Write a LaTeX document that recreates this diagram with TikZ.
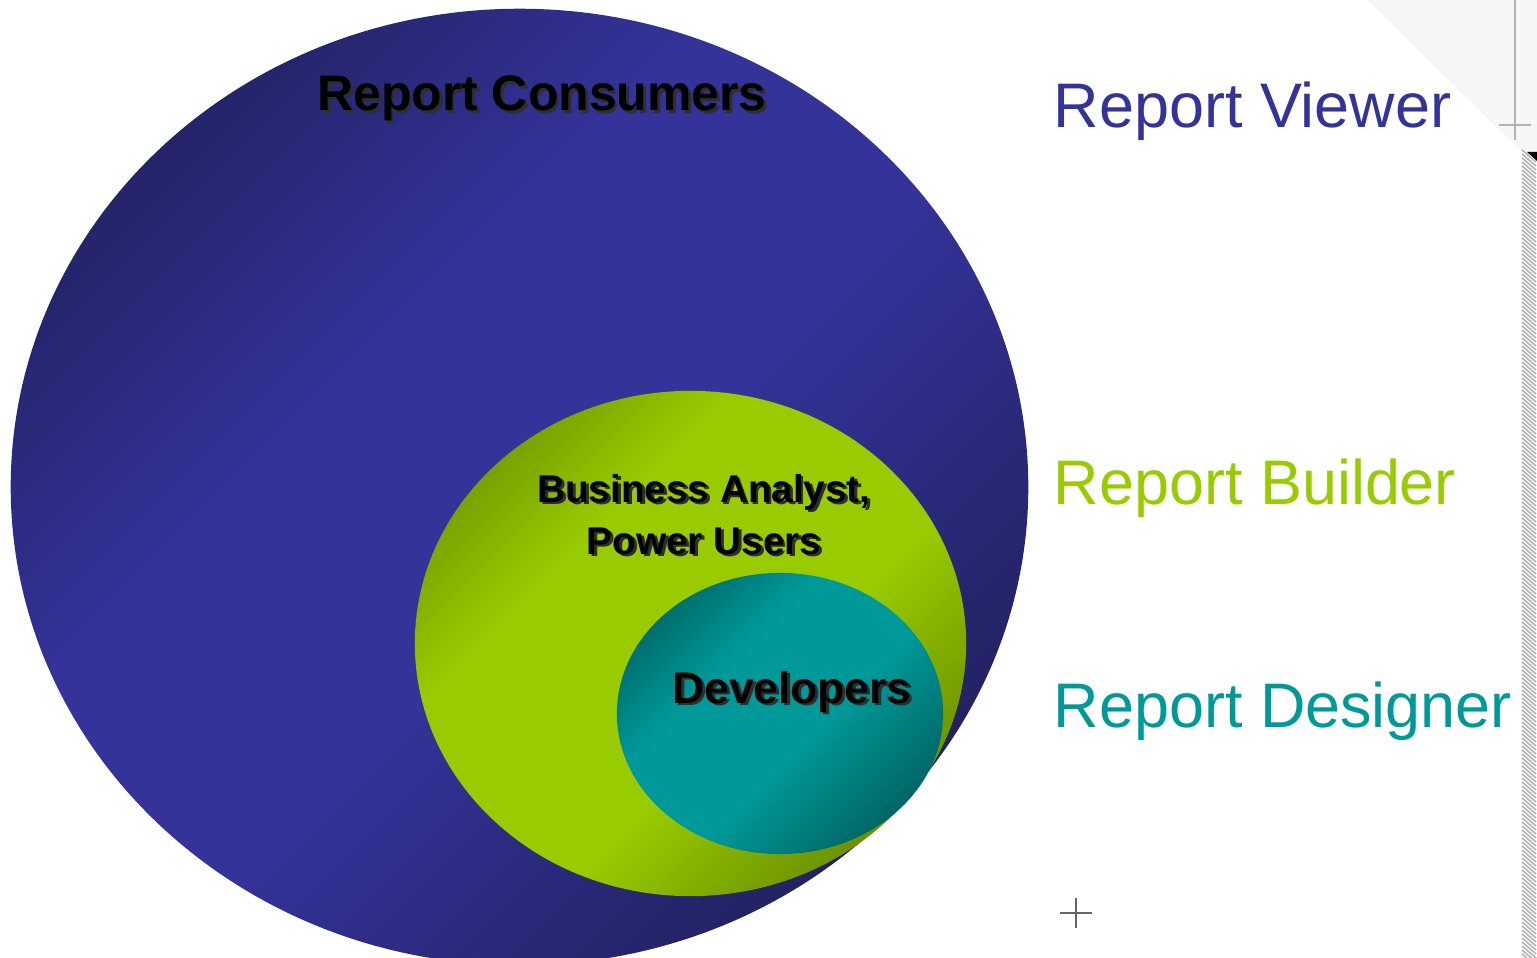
\documentclass[tikz,border=0pt]{standalone}
\usepackage{fontspec}
\setmainfont{Liberation Sans}
\usepackage{tikz}

\definecolor{viewblue}{HTML}{333399}
\definecolor{viewdark}{HTML}{1F1F5A}
\definecolor{buildgreen}{HTML}{99CC00}
\definecolor{builddark}{HTML}{648800}
\definecolor{designteal}{HTML}{009999}
\definecolor{designdark}{HTML}{005E5E}
\definecolor{shadowgray}{HTML}{2E2E2E}

\pgfdeclareverticalshading{viewshade}{100bp}{color(0bp)=(viewdark); color(22bp)=(viewdark); color(46bp)=(viewblue); color(60bp)=(viewblue); color(80bp)=(viewdark); color(100bp)=(viewdark)}
\pgfdeclareverticalshading{buildshade}{100bp}{color(0bp)=(builddark); color(22bp)=(builddark); color(42bp)=(buildgreen); color(64bp)=(buildgreen); color(82bp)=(builddark); color(100bp)=(builddark)}
\pgfdeclareverticalshading{designshade}{100bp}{color(0bp)=(designdark); color(22bp)=(designdark); color(44bp)=(designteal); color(62bp)=(designteal); color(80bp)=(designdark); color(100bp)=(designdark)}

\newcommand{\shadowed}[1]{\leavevmode\rlap{\hspace{0.8pt}\raisebox{-0.8pt}{\textcolor{shadowgray}{#1}}}#1}

\begin{document}
\begin{tikzpicture}[x=0.01cm,y=-0.01cm,
    group/.style={anchor=base,inner sep=0pt,text=black},
    tool/.style={anchor=base west,inner sep=0pt,font=\fontsize{17.9}{21}\selectfont}]
    \useasboundingbox (0,0) rectangle (1537,958);
    \clip (0,0) rectangle (1537,958);
    % the three circles
    \shade[shading=viewshade,shading angle=45] (519.5,487) ellipse [x radius=5.085cm,y radius=4.78cm];
    \shade[shading=buildshade,shading angle=45] (690.5,643.5) ellipse [x radius=2.755cm,y radius=2.525cm];
    \shade[shading=designshade,shading angle=45] (780,713.5) ellipse [x radius=1.63cm,y radius=1.405cm];
    \node[group,font=\bfseries\fontsize{14.2}{17}\selectfont] (consumers) at (542,111) {\shadowed{Report Consumers}};
    \node[group,font=\bfseries\fontsize{11}{14}\selectfont] (analyst) at (704,502) {\shadowed{Business Analyst,}};
    \node[group,font=\bfseries\fontsize{11}{14}\selectfont] (power) at (704,554) {\shadowed{Power Users}};
    \node[group,font=\bfseries\fontsize{12.6}{15}\selectfont] (developers) at (792,703) {\shadowed{Developers}};
    % tools
    \foreach \nm/\yb/\col/\txt in {viewer/128/viewblue/Report Viewer,builder/504/buildgreen/Report Builder,designer/727/designteal/Report Designer}
    {
        \node[tool,text=\col] (\nm) at (1053,\yb) {\txt};
    }
    % window edge
    \fill[gray!7] (1367,0) -- (1537,0) -- (1537,155) -- (1520,150) -- cycle;
    \draw[gray!60,line width=0.6pt] (1515,0) -- (1515,140);
    \draw[gray!60,line width=0.6pt] (1499,125) -- (1531,125);
    \fill (1527,152) -- (1537,152) -- (1537,161) -- cycle;
    \foreach \y in {150,154,...,958}
    {
        \draw[gray!60,line width=0.45pt] (1522,\y) -- (1536,\y+12);
    }
    \draw[gray!80!black,line width=0.6pt] (1060,913) -- (1092,913) (1076,898) -- (1076,928);
\end{tikzpicture}
\end{document}
